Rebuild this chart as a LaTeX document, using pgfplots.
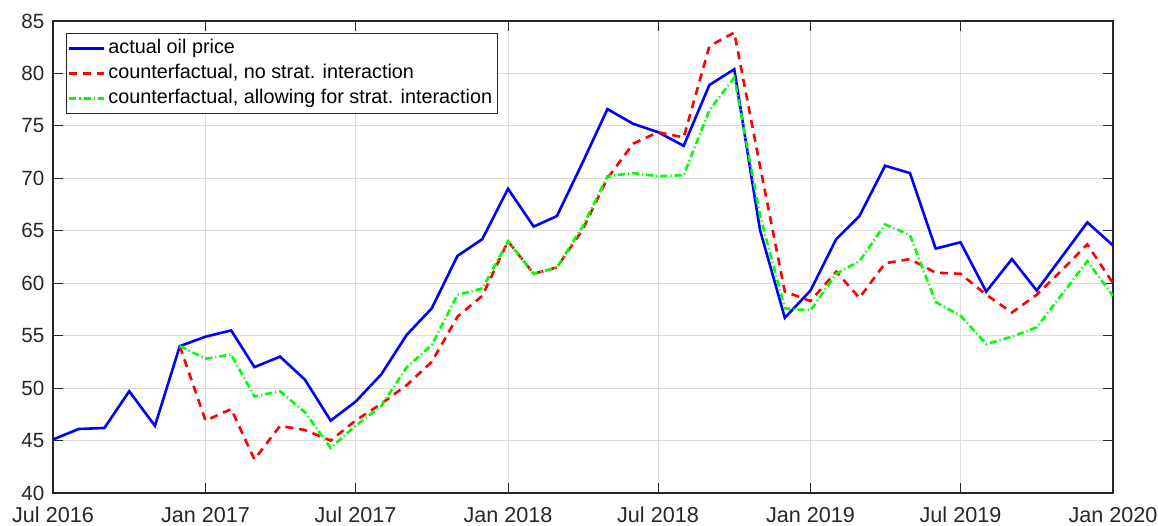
\documentclass[border=0pt]{standalone}
\usepackage{fontspec}
\setmainfont{Liberation Sans}
\usepackage{pgfplots}
\usepackage{pgfplotstable}
\pgfplotsset{compat=1.18}
\definecolor{axgray}{RGB}{38,38,38}
\definecolor{gridgray}{RGB}{222,222,222}
\pgfplotstableread{
d blue red green
0 45.1 nan nan
31 46.1 nan nan
62 46.2 nan nan
92 49.7 nan nan
123 46.4 nan nan
153 54.0 54.0 54.0
184 54.9 46.9 52.8
215 55.5 48.0 53.2
243 52.0 43.2 49.2
274 53.0 46.4 49.7
304 50.8 46.0 47.7
335 46.9 45.0 44.3
365 48.7 46.9 46.4
396 51.3 48.5 48.3
427 55.1 50.3 52.0
457 57.6 52.5 54.1
488 62.6 56.8 58.9
518 64.2 58.8 59.5
549 69.0 64.0 64.0
580 65.4 60.9 60.9
608 66.4 61.5 61.5
639 71.5 65.1 65.4
669 76.6 70.0 70.2
700 75.2 73.3 70.5
730 74.4 74.4 70.2
761 73.1 73.9 70.3
792 78.9 82.6 76.5
822 80.4 83.9 79.6
853 65.1 71.2 66.5
883 56.7 59.2 57.6
914 59.3 58.3 57.4
945 64.2 61.1 60.9
973 66.4 58.6 62.1
1004 71.2 61.9 65.6
1034 70.5 62.3 64.6
1065 63.3 61.0 58.2
1095 63.9 60.9 56.9
1126 59.2 58.9 54.2
1157 62.3 57.2 54.9
1187 59.3 58.9 55.8
1218 62.6 61.3 59.0
1248 65.8 63.7 62.1
1279 63.6 60.0 58.8
}\datatable
\begin{document}
\begin{tikzpicture}
\begin{axis}[
  name=ax,
  scale only axis,
  width=530bp, height=236bp,
  xmin=0, xmax=1279, ymin=40, ymax=85,
  xtick={0,184,365,549,730,914,1095,1279},
  xticklabels={Jul 2016,Jan 2017,Jul 2017,Jan 2018,Jul 2018,Jan 2019,Jul 2019,Jan 2020},
  ytick={40,45,...,85},
  xtick pos=both, ytick pos=both,
  tick align=inside,
  major tick length=5bp,
  tick style={axgray, line width=0.5bp},
  axis line style={axgray, line width=0.6bp},
  grid=major,
  major grid style={gridgray, line width=0.5bp},
  /pgf/number format/assume math mode=true,
  ticklabel style={text=axgray},
  xticklabel style={font=\fontsize{10.8bp}{12bp}\selectfont, yshift=-3.6bp},
  yticklabel style={font=\fontsize{10.3bp}{12bp}\selectfont, xshift=-0.8bp},
  unbounded coords=discard,
  legend cell align=left,
  legend image code/.code={\draw[#1] (0bp,0bp) -- (17.5bp,0bp);},
  legend style={at={(0,1)}, anchor=north west, xshift=6.3bp, yshift=-6.2bp,
    draw=axgray, line width=0.4bp, fill=white,
    font=\fontsize{9.9bp}{11bp}\selectfont,
    inner xsep=1bp, inner ysep=1.2bp, row sep=0bp,
    nodes={text height=7.5bp, text depth=2.2bp, inner sep=1.4bp}},
]
\addplot[blue, line width=1.3bp] table[x=d, y=blue] {\datatable};
\addlegendentry{actual oil price}
\addplot[red, line width=1.3bp, dash pattern=on 4bp off 3bp] table[x=d, y=red] {\datatable};
\addlegendentry{counterfactual, no strat. interaction}
\addplot[green, line width=1.3bp, dash pattern=on 3.5bp off 1.5bp on 0.6bp off 1.5bp] table[x=d, y=green] {\datatable};
\addlegendentry{counterfactual, allowing for strat. interaction}
\end{axis}
\pgfresetboundingbox
\path[use as bounding box] ([xshift=-26.5bp,yshift=-16.5bp]ax.south west) rectangle ([xshift=22.5bp,yshift=10.5bp]ax.north east);
\end{tikzpicture}
\end{document}
